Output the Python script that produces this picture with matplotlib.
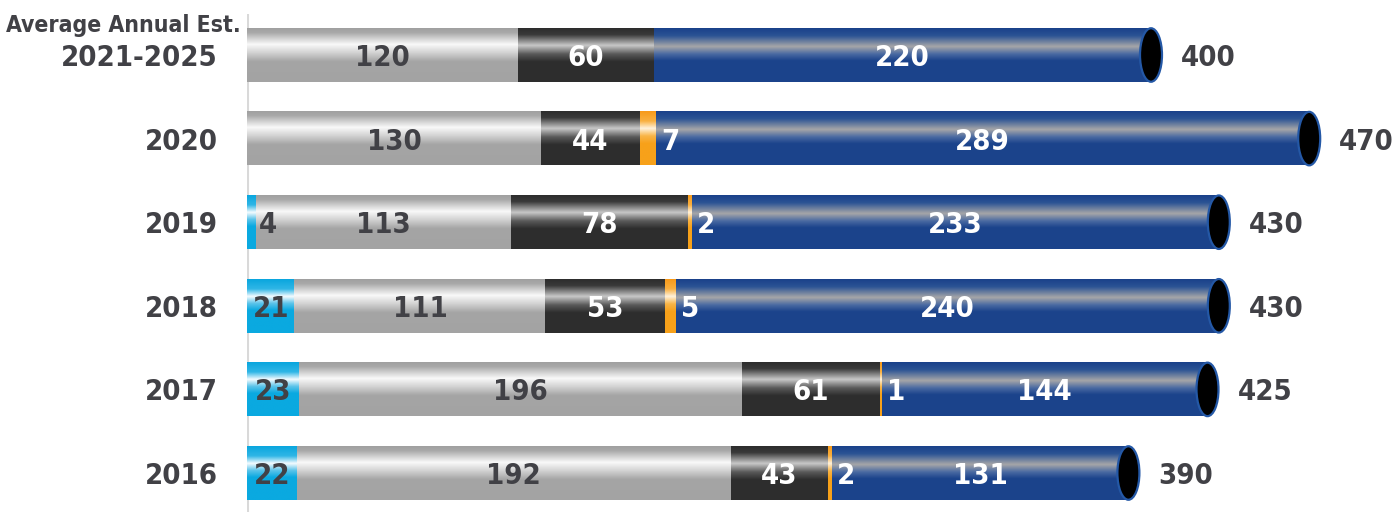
import numpy as np
import matplotlib
matplotlib.use("Agg")
import matplotlib.pyplot as plt
from matplotlib.colors import to_rgb
from matplotlib.patches import Ellipse

# ---- data -------------------------------------------------------------
categories = ["Average Annual Est.\n2021-2025", "2020", "2019", "2018", "2017", "2016"]
series_names = ["Other", "Silver", "Dark", "Orange", "Blue"]
other = [0, 0, 4, 21, 23, 22]
silver = [120, 130, 113, 111, 196, 192]
dark = [60, 44, 78, 53, 61, 43]
orange = [0, 7, 2, 5, 1, 2]
blue = [220, 289, 233, 240, 144, 131]
totals = [400, 470, 430, 430, 425, 390]

# ---- styling ----------------------------------------------------------
plt.rcParams["font.family"] = ["Liberation Sans Narrow", "DejaVu Sans"]
plt.rcParams["font.stretch"] = "condensed"
TXT_DARK = "#414146"

# vertical gradient stops (position from top, colour) giving a tube look
gradients = {
    "Other": [(0.0, "#0aa6de"), (0.18, "#2fb6e6"), (0.32, "#f4fbff"), (0.45, "#5cc4ea"), (0.58, "#0aa9e0"), (1.0, "#0aa9e0")],
    "Silver": [(0.0, "#a0a0a0"), (0.08, "#a8a8a8"), (0.30, "#f9f9f9"), (0.45, "#d4d4d4"), (0.62, "#a5a5a5"), (1.0, "#a3a3a3")],
    "Dark": [(0.0, "#2d2d2d"), (0.12, "#3a3a3a"), (0.32, "#c8c8c8"), (0.48, "#5a5a5a"), (0.62, "#2e2e2e"), (1.0, "#2d2d2d")],
    "Orange": [(0.0, "#f79a1a"), (0.18, "#f9b040"), (0.32, "#fff2dc"), (0.46, "#f9b548"), (0.6, "#f7a11a"), (1.0, "#f7a11a")],
    "Blue": [(0.0, "#1a418a"), (0.14, "#2b5394"), (0.34, "#a6a6a8"), (0.48, "#4a6aa2"), (0.6, "#1c448c"), (1.0, "#1b438b")],
}
label_colors = {"Other": TXT_DARK, "Silver": TXT_DARK, "Dark": "white", "Orange": "white", "Blue": "white"}


def gradient_image(stops, n=120):
    pos = np.array([s[0] for s in stops])
    cols = np.array([to_rgb(s[1]) for s in stops])
    t = np.linspace(0, 1, n)
    img = np.stack([np.interp(t, pos, cols[:, k]) for k in range(3)], axis=-1)
    return img[:, None, :]


W, H, DPI = 1397, 512, 100
fig = plt.figure(figsize=(W / DPI, H / DPI), dpi=DPI)
ax_left, ax_top = 247, 14
ax = fig.add_axes([ax_left / W, 0, (W - ax_left) / W, (H - ax_top) / H])

px_per_unit = 2.26
row_px = 83.6
ax.set_xlim(0, (W - ax_left) / px_per_unit)
top_lim = -41 / row_px
ax.set_ylim(top_lim + (H - ax_top) / row_px, top_lim)
ax.axis("off")
ax.axvline(0, color="#d9d9d9", lw=2.2, zorder=1)

bar_h = 0.64
PT = 0.72  # points per pixel at 100 dpi
FS = 21

data = [other, silver, dark, orange, blue]
images = {name: gradient_image(gradients[name]) for name in series_names}

for i, cat in enumerate(categories):
    left = 0.0
    for name, vals in zip(series_names, data):
        v = vals[i]
        if v <= 0:
            continue
        ax.imshow(images[name], extent=(left, left + v, i + bar_h / 2, i - bar_h / 2),
                  aspect="auto", origin="upper", interpolation="bilinear", zorder=2)
        # value labels
        if name == "Orange" or (name == "Other" and v < 10):
            ax.annotate(str(v), xy=(left + v, i), xytext=(5 * PT if name == "Orange" else 3 * PT, -11 * PT),
                        textcoords="offset points", ha="left", va="baseline",
                        fontsize=FS, fontweight="bold",
                        color="white" if name == "Orange" else TXT_DARK, zorder=5)
        else:
            ax.annotate(str(v), xy=(left + v / 2, i), xytext=(0, -11 * PT),
                        textcoords="offset points", ha="center", va="baseline",
                        fontsize=FS, fontweight="bold", color=label_colors[name], zorder=5)
        left += v
    # tube end cap
    cap = Ellipse((totals[i], i), width=22 / px_per_unit, height=bar_h,
                  facecolor="black", edgecolor="#2458a6", lw=1.6, zorder=4)
    ax.add_patch(cap)
    # total label
    ax.annotate(str(totals[i]), xy=(totals[i], i), xytext=(30 * PT, -11 * PT),
                textcoords="offset points", ha="left", va="baseline",
                fontsize=FS, fontweight="bold", color=TXT_DARK, zorder=5)
    # category label
    lines = cat.split("\n")
    ax.annotate(lines[-1], xy=(0, i), xytext=(-29 * PT, -11 * PT),
                textcoords="offset points", ha="right", va="baseline",
                fontsize=FS, fontweight="bold", color=TXT_DARK, annotation_clip=False)
    if len(lines) > 1:
        ax.annotate(lines[0], xy=(0, i), xytext=(-6 * PT, 23.3 * PT),
                    textcoords="offset points", ha="right", va="baseline",
                    fontsize=16.5, fontweight="bold", color=TXT_DARK, annotation_clip=False)

fig.savefig("out.png", dpi=DPI)
